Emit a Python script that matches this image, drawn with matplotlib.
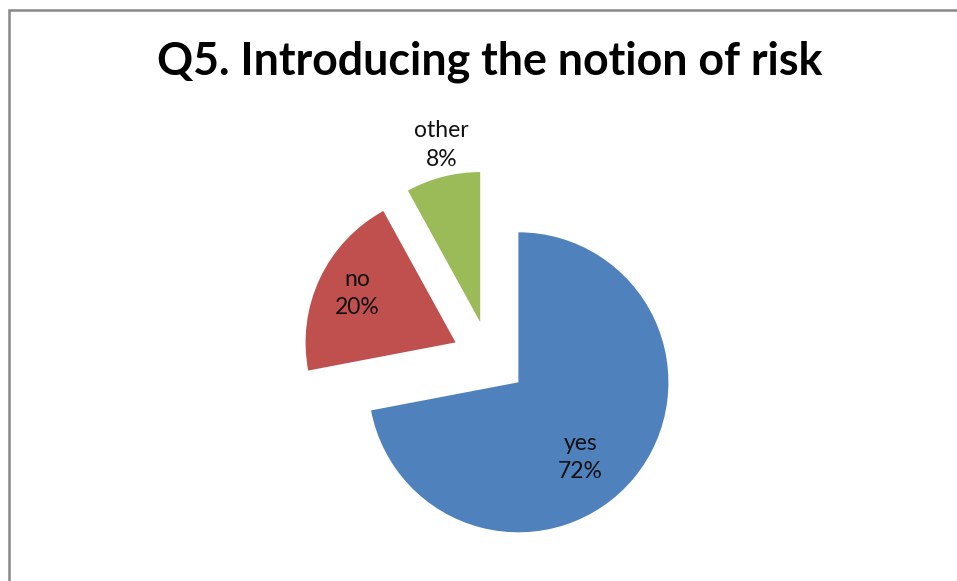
import numpy as np
import matplotlib
matplotlib.use("Agg")
import matplotlib.pyplot as plt
from matplotlib.patches import Rectangle

categories = ["yes", "no", "other"]
values = [72, 20, 8]
title = "Q5. Introducing the notion of risk"

colors = ["#4F81BD", "#C0504D", "#9BBB59"]
W, H = 957, 581
fig = plt.figure(figsize=(W / 100, H / 100), dpi=100)
ax = fig.add_axes([0, 0, 1, 1])

R = 150
center = (489.5, H - 358.4)
wedges, _ = ax.pie(values, colors=colors, startangle=90, counterclock=False,
                   radius=R, center=center, explode=[0.25 * R] * 3,
                   wedgeprops=dict(linewidth=0))
ax.set_xlim(0, W)
ax.set_ylim(0, H)
ax.set_aspect("equal")
ax.axis("off")

# label placement (distance factor of radius, angular tweak in degrees)
lab_dist = [0.65, 0.73, 1.21]
lab_tweak = [-10.8, -1.4, -2.0]
for w, c, v, d, t in zip(wedges, categories, values, lab_dist, lab_tweak):
    mid = np.deg2rad((w.theta1 + w.theta2) / 2 + t)
    cx, cy = w.center
    ax.text(cx + d * R * np.cos(mid), cy + d * R * np.sin(mid), f"{c}\n{v}%",
            ha="center", va="center", fontsize=16.5, family="Lato",
            color="#111111", linespacing=1.45)

fig.text(490 / W, 1 - 62 / H, title, ha="center", va="center",
         fontsize=32.2, fontweight="bold", family="Lato", color="black")

fig.patches.append(Rectangle((9 / W, -0.1), 1.2, 1 - 9.5 / H + 0.1,
                             transform=fig.transFigure, fill=False,
                             edgecolor="#888888", linewidth=1.8))

fig.savefig("out.png", dpi=100, facecolor="white")
